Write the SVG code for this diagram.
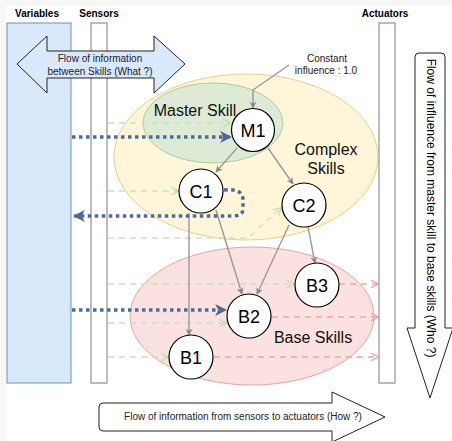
<svg xmlns="http://www.w3.org/2000/svg" width="452" height="441" viewBox="0 0 452 441">
<defs>
<style>
text{font-family:"Liberation Sans",Arial,sans-serif;fill:#000}
.hdr{font-size:10px;font-weight:bold;text-anchor:middle}
.sm{font-size:10px;text-anchor:middle;fill:#222}
.lbl{font-size:16px;text-anchor:middle;fill:#111}
.nd{font-size:18px;text-anchor:middle}
.node{fill:#fff;stroke:#000;stroke-width:1.2}
.gray{fill:none;stroke:#999;stroke-width:1.4}
.blue{fill:none;stroke:#4f6b95;stroke-width:3.5;stroke-dasharray:3.5 3.5}
.green{fill:none;stroke:#c8e3bc;stroke-width:1.3;stroke-dasharray:6 5}
.red{fill:none;stroke:#eaa9a7;stroke-width:1.3;stroke-dasharray:6 5}
.bigarrow{stroke:#222;stroke-width:1}
</style>
<marker id="mg" viewBox="0 0 10 10" refX="9" refY="5" markerWidth="7" markerHeight="7" markerUnits="userSpaceOnUse" orient="auto"><path d="M0,0 L10,5 L0,10 L3,5 Z" fill="#888"/></marker>
<marker id="mb" viewBox="0 0 10 10" refX="9" refY="5" markerWidth="12" markerHeight="12" markerUnits="userSpaceOnUse" orient="auto"><path d="M0,0 L10,5 L0,10 L2.5,5 Z" fill="#4f6b95"/></marker>
<marker id="mgr" viewBox="0 0 10 10" refX="9" refY="5" markerWidth="8" markerHeight="8" markerUnits="userSpaceOnUse" orient="auto"><path d="M0,0 L10,5 L0,10" fill="none" stroke="#b9dca8" stroke-width="1.3"/></marker>
<marker id="mr" viewBox="0 0 10 10" refX="9" refY="5" markerWidth="8" markerHeight="8" markerUnits="userSpaceOnUse" orient="auto"><path d="M0,0 L10,5 L0,10" fill="none" stroke="#e79896" stroke-width="1.3"/></marker>
</defs>
<rect x="0" y="0" width="452" height="441" fill="#f7f7f7"/>
<rect x="6" y="6" width="446" height="435" fill="#fff"/>

<g id="columns">
<rect x="7" y="23" width="64" height="360" fill="#dae8fc" stroke="#6c8ebf" stroke-width="1"/>
<rect x="91" y="23" width="16" height="360" fill="#fff" stroke="#a6a6a6" stroke-width="1.5"/>
<rect x="379" y="23" width="16" height="360" fill="#fff" stroke="#a6a6a6" stroke-width="1.5"/>
<text class="hdr" x="37" y="17">Variables</text>
<text class="hdr" x="99" y="17">Sensors</text>
<text class="hdr" x="385" y="17">Actuators</text>
</g>

<g id="groups">
<ellipse cx="246" cy="157" rx="132" ry="83" fill="#fff2cc" fill-opacity="0.75" stroke="#e8cf88" stroke-width="1"/>
<ellipse cx="213" cy="123" rx="70" ry="40" fill="#d5e8d4" fill-opacity="0.8" stroke="#a9cf98" stroke-width="1"/>
<ellipse cx="252" cy="316" rx="122" ry="69" fill="#f8cecc" fill-opacity="0.6" stroke="#e6a3a1" stroke-width="1"/>
<text class="lbl" x="195" y="116">Master Skill</text>
<text class="lbl" x="326" y="155">Complex</text>
<text class="lbl" x="326" y="174">Skills</text>
<text class="lbl" x="313" y="343">Base Skills</text>
</g>

<g id="big-arrows">
<g id="arrow-what">
<path class="bigarrow" fill="#dae8fc" d="M17,64 L47,36 L47,51 L154,51 L154,36 L185,64 L154,93 L154,78 L47,78 L47,93 Z"/>
<text class="sm" x="100" y="62">Flow of information</text>
<text class="sm" x="100" y="75">between Skills (What ?)</text>
</g>
<g id="arrow-who">
<path class="bigarrow" fill="#fff" d="M415,328 L415,57 Q415,53 419,53 L441,53 Q445,53 445,57 L445,328 L453,328 L430,398 L407,328 Z"/>
<text transform="translate(427,208) rotate(90)" font-size="12" text-anchor="middle" fill="#222">Flow of influence from master skill to base skills (Who ?)</text>
</g>
<g id="arrow-how">
<path class="bigarrow" fill="#fff" d="M332,403 L332,392 L385,417 L332,442 L332,431 L103,431 Q99,431 99,427 L99,407 Q99,403 103,403 Z"/>
<text class="sm" x="243" y="420">Flow of information from sensors to actuators (How ?)</text>
</g>
</g>

<g id="connectors">
<path class="green" d="M108,123 L230,123" marker-end="url(#mgr)"/>
<path class="green" d="M108,191 L178,191" marker-end="url(#mgr)"/>
<path class="green" d="M108,238 L248,238 L281,208" marker-end="url(#mgr)"/>
<path class="green" d="M108,284 L294,284" marker-end="url(#mgr)"/>
<path class="green" d="M108,323 L226,323" marker-end="url(#mgr)"/>
<path class="green" d="M108,357 L168,357" marker-end="url(#mgr)"/>
<path class="red" d="M339,284 L378,284" marker-end="url(#mr)"/>
<path class="red" d="M272,317 L378,317" marker-end="url(#mr)"/>
<path class="red" d="M214,357 L378,357" marker-end="url(#mr)"/>
<path class="gray" d="M289,65 L253,90 L253,108" marker-end="url(#mg)"/>
<path class="gray" d="M237,148 L216,172" marker-end="url(#mg)"/>
<path class="gray" d="M268,148 L293,184" marker-end="url(#mg)"/>
<path class="gray" d="M189,213 L189,335" marker-end="url(#mg)"/>
<path class="gray" d="M216,210 L242,294" marker-end="url(#mg)"/>
<path class="gray" d="M289,225 L257,294" marker-end="url(#mg)"/>
<path class="gray" d="M308,227 L315,263" marker-end="url(#mg)"/>
<path class="blue" d="M72,137 L231,137" marker-end="url(#mb)"/>
<path class="blue" d="M224,190 Q243,188 243,200 L243,209 Q243,216 232,216 L74,216" marker-end="url(#mb)"/>
<path class="blue" d="M72,310 L226,310" marker-end="url(#mb)"/>
</g>

<g id="node-M1"><circle class="node" cx="253" cy="130" r="21.5"/><text class="nd" x="253" y="137">M1</text></g>
<g id="node-C1"><circle class="node" cx="201" cy="191" r="22"/><text class="nd" x="201" y="198">C1</text></g>
<g id="node-C2"><circle class="node" cx="304" cy="205" r="22"/><text class="nd" x="304" y="212">C2</text></g>
<g id="node-B3"><circle class="node" cx="317" cy="285" r="22"/><text class="nd" x="317" y="292">B3</text></g>
<g id="node-B2"><circle class="node" cx="249" cy="316" r="22"/><text class="nd" x="249" y="323">B2</text></g>
<g id="node-B1"><circle class="node" cx="191" cy="357" r="22"/><text class="nd" x="191" y="364">B1</text></g>
<g id="label-constant">
<text class="sm" x="327" y="62">Constant</text>
<text class="sm" x="326" y="74">influence : 1.0</text>
</g>
</svg>
